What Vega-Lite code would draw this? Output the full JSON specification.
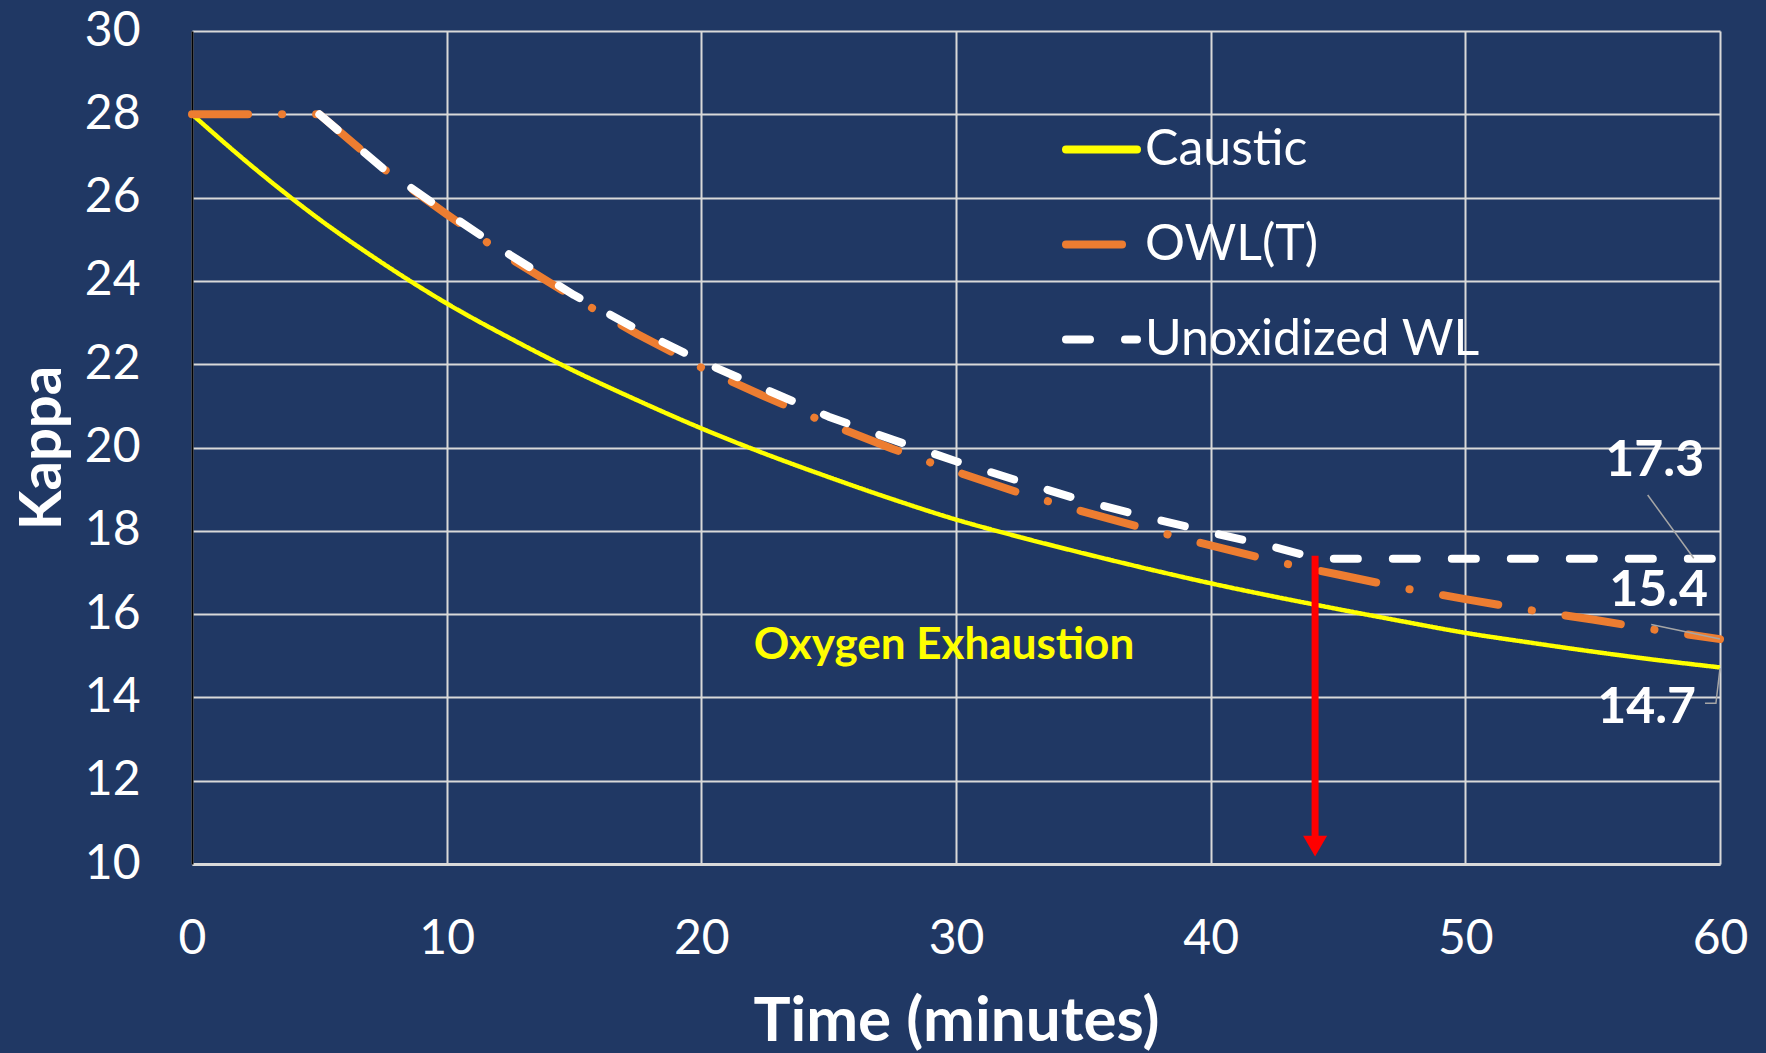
{
  "$schema": "https://vega.github.io/schema/vega-lite/v6.json",
  "width": 1528,
  "height": 833,
  "autosize": {"type": "none"},
  "padding": {"left": 192, "top": 31, "right": 46, "bottom": 189},
  "background": "#203864",
  "config": {
    "view": {"stroke": null},
    "font": "Lato",
    "axis": {
      "labelFont": "Lato", "labelFontSize": 48, "labelColor": "#FFFFFF", "labelFlush": false,
      "titleFont": "Lato", "titleFontSize": 62, "titleFontWeight": "bold", "titleColor": "#FFFFFF",
      "gridColor": "#D9D9D9", "gridWidth": 2, "gridOpacity": 1,
      "ticks": false, "tickSize": 0
    },
    "legend": {
      "orient": "none", "legendX": 870, "legendY": 79, "padding": 0,
      "symbolType": "stroke", "symbolSize": 5041, "symbolStrokeWidth": 8,
      "labelFont": "Lato", "labelFontSize": 50, "labelColor": "#FFFFFF",
      "labelOffset": 4, "labelLimit": 0, "rowPadding": 30
    }
  },
  "datasets": {
    "curves": [
      {"series": "Caustic", "time": 0, "kappa": 28.0},
      {"series": "Caustic", "time": 2.5, "kappa": 26.68},
      {"series": "Caustic", "time": 5, "kappa": 25.48},
      {"series": "Caustic", "time": 7.5, "kappa": 24.42},
      {"series": "Caustic", "time": 10, "kappa": 23.46},
      {"series": "Caustic", "time": 12.5, "kappa": 22.62},
      {"series": "Caustic", "time": 15, "kappa": 21.84},
      {"series": "Caustic", "time": 17.5, "kappa": 21.13},
      {"series": "Caustic", "time": 20, "kappa": 20.46},
      {"series": "Caustic", "time": 22.5, "kappa": 19.85},
      {"series": "Caustic", "time": 25, "kappa": 19.29},
      {"series": "Caustic", "time": 27.5, "kappa": 18.76},
      {"series": "Caustic", "time": 30, "kappa": 18.27},
      {"series": "Caustic", "time": 32.5, "kappa": 17.85},
      {"series": "Caustic", "time": 35, "kappa": 17.46},
      {"series": "Caustic", "time": 37.5, "kappa": 17.09},
      {"series": "Caustic", "time": 40, "kappa": 16.74},
      {"series": "Caustic", "time": 42.5, "kappa": 16.42},
      {"series": "Caustic", "time": 45, "kappa": 16.12},
      {"series": "Caustic", "time": 47.5, "kappa": 15.83},
      {"series": "Caustic", "time": 50, "kappa": 15.55},
      {"series": "Caustic", "time": 52.5, "kappa": 15.32},
      {"series": "Caustic", "time": 55, "kappa": 15.1},
      {"series": "Caustic", "time": 57.5, "kappa": 14.9},
      {"series": "Caustic", "time": 60, "kappa": 14.72},
      {"series": "OWL(T)", "time": 0, "kappa": 28.0},
      {"series": "OWL(T)", "time": 2.5, "kappa": 28.0},
      {"series": "OWL(T)", "time": 5, "kappa": 28.0},
      {"series": "OWL(T)", "time": 7.5, "kappa": 26.7},
      {"series": "OWL(T)", "time": 10, "kappa": 25.6},
      {"series": "OWL(T)", "time": 12.5, "kappa": 24.54},
      {"series": "OWL(T)", "time": 15, "kappa": 23.6},
      {"series": "OWL(T)", "time": 17.5, "kappa": 22.72},
      {"series": "OWL(T)", "time": 20, "kappa": 21.92},
      {"series": "OWL(T)", "time": 22.5, "kappa": 21.22},
      {"series": "OWL(T)", "time": 25, "kappa": 20.57},
      {"series": "OWL(T)", "time": 27.5, "kappa": 19.97},
      {"series": "OWL(T)", "time": 30, "kappa": 19.42},
      {"series": "OWL(T)", "time": 32.5, "kappa": 18.91},
      {"series": "OWL(T)", "time": 35, "kappa": 18.46},
      {"series": "OWL(T)", "time": 37.5, "kappa": 18.04},
      {"series": "OWL(T)", "time": 40, "kappa": 17.65},
      {"series": "OWL(T)", "time": 42.5, "kappa": 17.27},
      {"series": "OWL(T)", "time": 45, "kappa": 16.95},
      {"series": "OWL(T)", "time": 47.5, "kappa": 16.63},
      {"series": "OWL(T)", "time": 50, "kappa": 16.36},
      {"series": "OWL(T)", "time": 52.5, "kappa": 16.1},
      {"series": "OWL(T)", "time": 55, "kappa": 15.87},
      {"series": "OWL(T)", "time": 57.5, "kappa": 15.62},
      {"series": "OWL(T)", "time": 60, "kappa": 15.4},
      {"series": "Unoxidized WL", "time": 5, "kappa": 28.0},
      {"series": "Unoxidized WL", "time": 7.5, "kappa": 26.7},
      {"series": "Unoxidized WL", "time": 10, "kappa": 25.64},
      {"series": "Unoxidized WL", "time": 12.5, "kappa": 24.62},
      {"series": "Unoxidized WL", "time": 15, "kappa": 23.66},
      {"series": "Unoxidized WL", "time": 17.5, "kappa": 22.83},
      {"series": "Unoxidized WL", "time": 20, "kappa": 22.07},
      {"series": "Unoxidized WL", "time": 22.5, "kappa": 21.4},
      {"series": "Unoxidized WL", "time": 25, "kappa": 20.74},
      {"series": "Unoxidized WL", "time": 27.5, "kappa": 20.19},
      {"series": "Unoxidized WL", "time": 30, "kappa": 19.67},
      {"series": "Unoxidized WL", "time": 32.5, "kappa": 19.19},
      {"series": "Unoxidized WL", "time": 35, "kappa": 18.72},
      {"series": "Unoxidized WL", "time": 37.5, "kappa": 18.33},
      {"series": "Unoxidized WL", "time": 40, "kappa": 17.96},
      {"series": "Unoxidized WL", "time": 42.5, "kappa": 17.61},
      {"series": "Unoxidized WL", "time": 44.2, "kappa": 17.33},
      {"series": "Unoxidized WL", "time": 50, "kappa": 17.33},
      {"series": "Unoxidized WL", "time": 60, "kappa": 17.33}
    ],
    "arrow": [{"time": 44.1, "kappa": 17.4, "kappa2": 10.45}],
    "arrowhead": [{"time": 44.1, "kappa": 10.43}],
    "leaders": [
      {"leader": "17.3", "time": 57.16, "kappa": 18.86},
      {"leader": "17.3", "time": 58.97, "kappa": 17.34},
      {"leader": "15.4", "time": 57.3, "kappa": 15.75},
      {"leader": "15.4", "time": 60, "kappa": 15.4},
      {"leader": "14.7", "time": 59.41, "kappa": 13.86},
      {"leader": "14.7", "time": 59.84, "kappa": 13.86},
      {"leader": "14.7", "time": 60, "kappa": 14.7}
    ],
    "valueLabels": [
      {"label": "17.3", "time": 57.44, "kappa": 19.31},
      {"label": "15.4", "time": 57.59, "kappa": 16.19},
      {"label": "14.7", "time": 57.12, "kappa": 13.39}
    ],
    "note": [{"text": "Oxygen Exhaustion", "time": 29.53, "kappa": 14.915}]
  },
  "encoding": {
    "x": {
      "field": "time", "type": "quantitative",
      "scale": {"domain": [0, 60], "nice": false, "zero": false},
      "axis": {
        "title": "Time (minutes)", "values": [0, 10, 20, 30, 40, 50, 60],
        "labelPadding": 51, "domain": true, "domainColor": "#D9D9D9", "domainWidth": 3,
        "titleY": 176, "titleBaseline": "alphabetic"
      }
    },
    "y": {
      "field": "kappa", "type": "quantitative",
      "scale": {"domain": [10, 30], "nice": false, "zero": false},
      "axis": {
        "title": "Kappa", "values": [10, 12, 14, 16, 18, 20, 22, 24, 26, 28, 30],
        "labelPadding": 52, "domain": true, "domainColor": "#000000", "domainWidth": 2,
        "titleFontSize": 58, "titleX": -132, "titleBaseline": "alphabetic", "titleAngle": -90
      }
    }
  },
  "layer": [
    {
      "data": {"name": "curves"},
      "transform": [{"filter": "datum.series === 'Caustic'"}],
      "mark": {"type": "line", "interpolate": "monotone", "strokeWidth": 4.5},
      "encoding": {
        "color": {
          "field": "series", "type": "nominal",
          "scale": {"domain": ["Caustic", "OWL(T)", "Unoxidized WL"], "range": ["#FFFF00", "#ED7D31", "#FFFFFF"]},
          "legend": {"title": null, "encoding": {"symbols": {"strokeCap": {"value": "round"}}}}
        },
        "strokeDash": {
          "field": "series", "type": "nominal",
          "scale": {"domain": ["Caustic", "OWL(T)", "Unoxidized WL"], "range": [[1, 0], [56, 34, 0.1, 34], [24, 35]]},
          "legend": {"title": null, "encoding": {"symbols": {"strokeCap": {"value": "round"}}}}
        }
      }
    },
    {
      "data": {"name": "curves"},
      "transform": [{"filter": "datum.series !== 'Caustic'"}],
      "mark": {"type": "line", "interpolate": "linear", "strokeWidth": 8, "strokeCap": "round", "strokeJoin": "round"},
      "encoding": {
        "color": {
          "field": "series", "type": "nominal",
          "scale": {"domain": ["Caustic", "OWL(T)", "Unoxidized WL"], "range": ["#FFFF00", "#ED7D31", "#FFFFFF"]},
          "legend": {"title": null, "encoding": {"symbols": {"strokeCap": {"value": "round"}}}}
        },
        "strokeDash": {
          "field": "series", "type": "nominal",
          "scale": {"domain": ["Caustic", "OWL(T)", "Unoxidized WL"], "range": [[1, 0], [56, 34, 0.1, 34], [24, 35]]},
          "legend": {"title": null, "encoding": {"symbols": {"strokeCap": {"value": "round"}}}}
        }
      }
    },
    {
      "data": {"name": "arrow"},
      "mark": {"type": "rule", "color": "#FF0000", "strokeWidth": 7},
      "encoding": {"y2": {"field": "kappa2"}}
    },
    {
      "data": {"name": "arrowhead"},
      "mark": {"type": "point", "shape": "triangle-down", "filled": true, "size": 576, "color": "#FF0000", "opacity": 1, "strokeWidth": 0},
      "encoding": {}
    },
    {
      "data": {"name": "leaders"},
      "mark": {"type": "line", "color": "#A6A6A6", "strokeWidth": 1.5},
      "encoding": {"detail": {"field": "leader", "type": "nominal"}}
    },
    {
      "data": {"name": "valueLabels"},
      "mark": {"type": "text", "font": "Lato", "fontSize": 50, "fontWeight": "bold", "color": "#FFFFFF", "align": "center", "baseline": "alphabetic"},
      "encoding": {"text": {"field": "label", "type": "nominal"}}
    },
    {
      "data": {"name": "note"},
      "mark": {"type": "text", "font": "Lato", "fontSize": 44, "fontWeight": "bold", "color": "#FFFF00", "align": "center", "baseline": "alphabetic"},
      "encoding": {"text": {"field": "text", "type": "nominal"}}
    }
  ]
}
